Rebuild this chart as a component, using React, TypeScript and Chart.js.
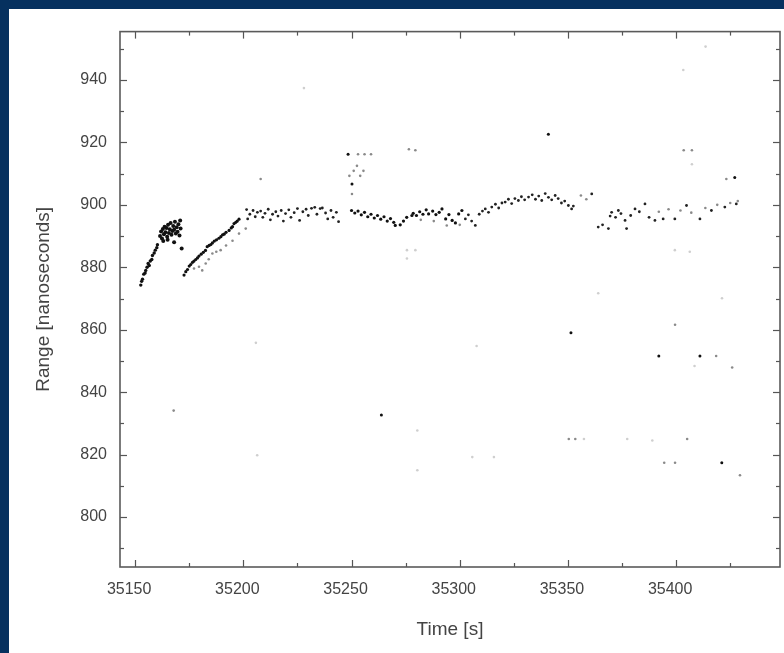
import { useEffect, useRef } from "react";
import { Chart, registerables } from "chart.js";
Chart.register(...registerables);

// ---- axes ----
const X_MIN = 35143;
const X_MAX = 35448;
const Y_MIN = 784;
const Y_MAX = 955.5;
const xTickLabels = [35150, 35200, 35250, 35300, 35350, 35400];
const yTickLabels = [800, 820, 840, 860, 880, 900, 920, 940];
const X_MINOR = 25;
const Y_MINOR = 10;
const xTitle = "Time [s]";
const yTitle = "Range [nanoseconds]";

// ---- data: [time s, range ns] ----
const streakA: [number, number][] = [
  [35152.6, 874.3], [35153.0, 875.5], [35153.4, 876.2], [35154.0, 877.8], [35154.6, 878.2],
  [35154.9, 879.0], [35155.5, 880.0], [35156.0, 881.2], [35156.5, 880.6], [35157.0, 882.0],
  [35157.7, 882.5], [35158.0, 883.8], [35158.8, 884.6], [35159.3, 885.5], [35160.0, 886.3],
  [35160.3, 887.2],
];
const blobA: [number, number][] = [
  [35161.5, 890.0], [35162.0, 891.5], [35162.4, 889.2], [35162.8, 892.3], [35163.3, 890.6],
  [35163.6, 893.0], [35164.0, 891.2], [35164.5, 892.6], [35164.8, 889.8], [35165.2, 893.6],
  [35165.6, 891.0], [35166.0, 892.2], [35166.4, 894.2], [35166.8, 890.4], [35167.2, 891.6],
  [35167.6, 893.2], [35168.0, 892.0], [35168.4, 894.6], [35168.8, 890.8], [35169.2, 892.8],
  [35169.6, 891.4], [35170.0, 893.8], [35170.5, 890.2], [35171.0, 892.4], [35163.0, 888.4],
  [35165.0, 888.8], [35168.0, 888.0], [35170.8, 895.0], [35171.5, 886.0],
];
const streakB: [number, number][] = [
  [35172.6, 877.5], [35173.4, 878.6], [35174.2, 879.3], [35175.0, 880.4], [35175.7, 880.9],
  [35176.5, 881.6], [35177.2, 882.0], [35178.0, 882.5], [35178.8, 883.0], [35179.5, 883.6],
  [35180.5, 884.2], [35181.5, 884.8], [35182.5, 885.4], [35183.3, 886.6], [35184.2, 887.0],
  [35185.0, 887.3], [35185.7, 887.8], [35186.6, 888.4], [35187.6, 888.8], [35188.7, 889.3],
  [35189.6, 889.8], [35190.4, 890.4], [35191.1, 890.6], [35192.0, 891.2], [35193.4, 891.8],
  [35194.4, 892.6], [35195.0, 893.0], [35195.7, 894.0], [35196.5, 894.4], [35197.2, 894.8],
  [35198.0, 895.4],
];
const plateau: [number, number][] = [
  [35201.5, 898.5], [35202.0, 895.5], [35203.0, 897.0], [35204.5, 898.2], [35205.5, 896.2],
  [35206.5, 897.6], [35208.0, 898.0], [35209.0, 896.0], [35210.0, 897.3], [35211.5, 898.6],
  [35212.5, 895.2], [35213.5, 897.0], [35215.0, 897.8], [35216.0, 896.4], [35217.5, 898.2],
  [35218.5, 894.8], [35219.5, 897.2], [35221.0, 898.4], [35222.0, 896.0], [35223.5, 897.5],
  [35225.0, 898.8], [35226.0, 895.0], [35227.5, 897.8], [35229.0, 898.6], [35230.0, 896.6],
  [35231.5, 898.9], [35233.0, 899.2], [35234.0, 897.0], [35235.5, 898.8], [35236.5, 899.0],
  [35238.0, 897.4], [35239.0, 895.5], [35240.5, 898.2], [35241.5, 896.0], [35243.0, 897.6],
  [35244.0, 894.6],
];
const middleBand: [number, number][] = [
  [35250.0, 898.2], [35251.5, 897.4], [35253.0, 898.0], [35254.5, 896.8], [35256.0, 897.6],
  [35257.5, 896.2], [35259.0, 897.0], [35260.5, 895.8], [35262.0, 896.6], [35263.5, 895.4],
  [35265.0, 896.2], [35266.5, 894.8], [35268.0, 895.6], [35269.5, 894.4], [35270.2, 893.4],
  [35272.5, 893.6], [35274.0, 894.8], [35275.5, 896.0], [35277.9, 896.6], [35278.5, 897.3],
  [35280.0, 896.6], [35281.5, 897.8], [35283.0, 897.0], [35284.5, 898.4], [35285.6, 897.1],
  [35287.5, 898.0], [35289.0, 896.9], [35290.5, 897.6], [35291.8, 898.7], [35293.5, 895.5],
  [35295.0, 896.9], [35296.5, 895.0], [35298.0, 894.2], [35299.5, 897.1], [35301.0, 898.2],
];
const risingBand: [number, number][] = [
  [35302.6, 895.5], [35304.0, 896.8], [35305.5, 894.8], [35307.2, 893.4], [35309.0, 897.0],
  [35310.5, 898.0], [35311.8, 898.7], [35313.3, 897.6], [35314.8, 899.3], [35316.5, 900.2],
  [35318.0, 899.0], [35319.5, 900.6], [35321.0, 900.9], [35322.5, 901.8], [35324.0, 900.4],
  [35325.5, 902.0], [35327.1, 901.4], [35328.5, 902.6], [35330.0, 901.6], [35331.8, 902.5],
  [35333.5, 903.2], [35335.0, 901.8], [35336.5, 902.8], [35337.9, 901.4], [35339.5, 903.6],
  [35341.0, 902.4], [35342.5, 901.6], [35344.1, 903.0], [35345.5, 902.0], [35347.0, 900.6],
  [35348.5, 901.2], [35350.2, 899.8], [35351.7, 898.7], [35352.5, 899.6],
];
const tailBlack: [number, number][] = [
  [35361.0, 903.5], [35364.0, 892.9], [35366.0, 893.6], [35368.7, 892.4], [35369.5, 896.4],
  [35370.2, 897.6], [35372.0, 896.0], [35373.3, 898.2], [35374.5, 897.2], [35376.4, 895.0],
  [35377.1, 892.4], [35379.0, 896.6], [35381.0, 898.7], [35383.0, 897.8], [35385.6, 900.3],
  [35387.5, 896.0], [35390.2, 895.0], [35394.0, 895.5], [35399.4, 895.5], [35404.8, 899.8],
  [35411.0, 895.5], [35416.3, 898.2], [35422.5, 899.3], [35427.8, 900.3],
];
const outliersBlack: [number, number][] = [
  [35248.4, 916.2], [35250.2, 906.7], [35340.96, 922.6], [35427.1, 908.8], [35351.4, 859.0],
  [35392.0, 851.6], [35411.0, 851.6], [35263.8, 832.7], [35421.1, 817.4],
];
const grayPoints: [number, number][] = [
  [35177.2, 879.6], [35179.5, 880.2], [35181.0, 879.0], [35182.6, 881.2], [35184.0, 882.6],
  [35185.7, 884.4], [35187.5, 885.0], [35189.5, 885.5], [35192.0, 887.0], [35195.0, 888.5],
  [35198.0, 890.8], [35201.1, 892.4], [35208.0, 908.3], [35251.0, 910.9], [35252.5, 912.5],
  [35254.0, 909.3], [35249.0, 909.3], [35255.5, 910.9], [35253.0, 916.2], [35256.0, 916.2],
  [35259.0, 916.2], [35250.2, 903.5], [35282.0, 895.2], [35288.0, 894.8], [35294.0, 893.4],
  [35300.0, 893.6], [35356.0, 903.0], [35358.5, 901.8], [35392.0, 897.8], [35396.5, 898.6],
  [35402.0, 898.2], [35407.0, 897.5], [35413.5, 899.0], [35419.0, 900.0], [35425.0, 900.6],
  [35428.5, 901.2], [35423.2, 908.3], [35403.5, 917.5], [35407.3, 917.5], [35276.5, 917.8],
  [35279.5, 917.5], [35399.5, 861.6], [35418.5, 851.6], [35425.9, 847.9], [35167.8, 834.1],
  [35350.4, 825.0], [35353.4, 825.0], [35405.1, 825.0], [35394.5, 817.4], [35399.5, 817.4],
  [35429.5, 813.4],
];
const faintPoints: [number, number][] = [
  [35407.3, 913.0], [35408.5, 848.4], [35205.8, 855.8], [35307.8, 854.8], [35280.4, 827.7],
  [35357.4, 825.0], [35377.4, 825.0], [35389.0, 824.5], [35206.4, 819.8], [35305.8, 819.2],
  [35315.8, 819.2], [35280.4, 815.0], [35228.0, 937.4], [35413.6, 950.7], [35403.3, 943.2],
  [35275.6, 885.5], [35279.5, 885.5], [35275.6, 882.8], [35399.4, 885.5], [35406.3, 885.0],
  [35364.0, 871.7], [35421.2, 870.1],
];

const toXY = (arr: [number, number][]) => arr.map(([x, y]) => ({ x, y }));

const frameAndTicks = {
  id: "frameAndTicks",
  afterDatasetsDraw(chart: any) {
    const { ctx, chartArea: a, scales } = chart;
    const xs = scales.x;
    const ys = scales.y;
    ctx.save();
    ctx.strokeStyle = "#555";
    ctx.lineWidth = 1.2;
    const line = (x1: number, y1: number, x2: number, y2: number) => {
      ctx.beginPath();
      ctx.moveTo(x1, y1);
      ctx.lineTo(x2, y2);
      ctx.stroke();
    };
    for (let v = Math.ceil(X_MIN / X_MINOR) * X_MINOR; v <= X_MAX; v += X_MINOR) {
      const px = Math.round(xs.getPixelForValue(v)) + 0.5;
      const len = xTickLabels.includes(v) ? 7 : 4;
      line(px, a.bottom, px, a.bottom - len);
      line(px, a.top, px, a.top + len);
    }
    for (let v = Math.ceil(Y_MIN / Y_MINOR) * Y_MINOR; v <= Y_MAX; v += Y_MINOR) {
      const py = Math.round(ys.getPixelForValue(v)) + 0.5;
      const len = yTickLabels.includes(v) ? 7 : 4;
      line(a.left, py, a.left + len, py);
      line(a.right, py, a.right - len, py);
    }
    ctx.lineWidth = 1.6;
    ctx.strokeStyle = "#5a5a5a";
    ctx.strokeRect(a.left, a.top, a.right - a.left, a.bottom - a.top);
    ctx.restore();
  },
};

export default function App() {
  const ref = useRef<HTMLCanvasElement>(null);
  useEffect(() => {
    if (!ref.current) return;
    const font = { family: "'Liberation Sans', Arial, sans-serif", size: 16 };
    const titleFont = { family: "'Liberation Sans', Arial, sans-serif", size: 19 };
    const mk = (data: [number, number][], color: string, r: number) => ({
      data: toXY(data),
      backgroundColor: color,
      borderColor: color,
      pointRadius: r,
      pointBorderWidth: 0,
      showLine: false,
    });
    const chart = new Chart(ref.current, {
      type: "scatter",
      data: {
        datasets: [
          mk(faintPoints, "#cfcfcf", 1.3),
          mk(grayPoints, "#8a8a8a", 1.3),
          mk(streakA, "#111", 1.7),
          mk(blobA, "#111", 2.0),
          mk(streakB, "#111", 1.6),
          mk(plateau, "#222", 1.4),
          mk(middleBand, "#111", 1.6),
          mk(risingBand, "#222", 1.4),
          mk(tailBlack, "#222", 1.4),
          mk(outliersBlack, "#111", 1.5),
        ],
      },
      options: {
        animation: false,
        responsive: false,
        maintainAspectRatio: false,
        layout: { padding: { top: 20, right: 2, left: 0, bottom: 0 } },
        plugins: { legend: { display: false }, tooltip: { enabled: false } },
        scales: {
          x: {
            type: "linear",
            min: X_MIN,
            max: X_MAX,
            grid: { display: false, drawTicks: false },
            border: { display: false },
            ticks: {
              stepSize: 50,
              includeBounds: false,
              autoSkip: false,
              maxRotation: 0,
              padding: 13,
              labelOffset: -6,
              color: "#444",
              font,
              callback: (v: any) => (xTickLabels.includes(Number(v)) ? String(v) : ""),
            },
            title: { display: true, text: xTitle, color: "#444", font: titleFont, padding: { top: 12, bottom: 12 } },
            afterFit: (s: any) => {
              s.height = 86;
            },
          },
          y: {
            type: "linear",
            min: Y_MIN,
            max: Y_MAX,
            grid: { display: false, drawTicks: false },
            border: { display: false },
            ticks: {
              stepSize: 20,
              includeBounds: false,
              autoSkip: false,
              padding: 13,
              color: "#444",
              font,
              callback: (v: any) => (yTickLabels.includes(Number(v)) ? String(v) : ""),
            },
            title: { display: true, text: yTitle, color: "#444", font: titleFont, padding: { top: 23, bottom: 0 } },
            afterFit: (s: any) => {
              s.width = 111;
            },
          },
        },
      },
      plugins: [frameAndTicks],
    } as any);
    return () => chart.destroy();
  }, []);
  return (
    <div style={{ position: "fixed", left: 0, top: 0, width: 784, height: 653, background: "#06315f" }}>
      <div style={{ position: "absolute", left: 9, top: 9, width: 775, height: 644, background: "#fff" }}>
        <canvas ref={ref} width={775} height={644} style={{ display: "block", width: 775, height: 644 }} />
      </div>
    </div>
  );
}
